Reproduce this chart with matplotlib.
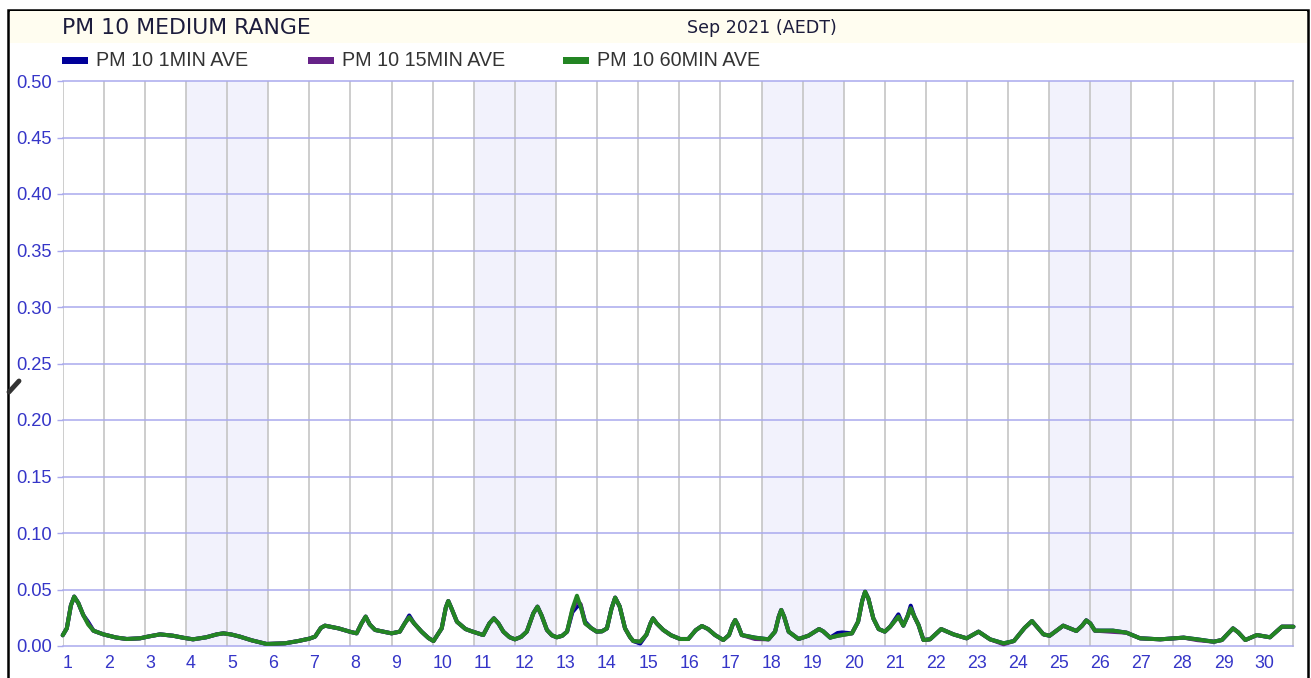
import matplotlib
matplotlib.use("Agg")
import matplotlib.pyplot as plt
from matplotlib.patches import Rectangle
from matplotlib.lines import Line2D
import numpy as np

# ---------------- data ----------------
title = "PM 10 MEDIUM RANGE"
period = "Sep 2021 (AEDT)"
series_names = ["PM 10 1MIN AVE", "PM 10 15MIN AVE", "PM 10 60MIN AVE"]
day_labels = [str(d) for d in range(1, 31)]
weekends = [(4, 6), (11, 13), (18, 20), (25, 27)]
y_ticks = [0.00, 0.05, 0.10, 0.15, 0.20, 0.25, 0.30, 0.35, 0.40, 0.45, 0.50]

days = [1.00, 1.10, 1.20, 1.28, 1.38, 1.50, 1.62, 1.75, 1.99, 2.30,
        2.56, 2.88, 3.10, 3.37, 3.68, 3.95, 4.17, 4.49, 4.75, 4.91,
        5.10, 5.31, 5.60, 5.96, 6.41, 6.73, 7.00, 7.14, 7.28, 7.38,
        7.71, 8.00, 8.15, 8.27, 8.37, 8.47, 8.60, 9.00, 9.20, 9.32,
        9.43, 9.55, 9.73, 9.90, 10.02, 10.22, 10.32, 10.38, 10.45, 10.59,
        10.80, 10.95, 11.10, 11.23, 11.38, 11.49, 11.60, 11.72, 11.87, 12.00,
        12.15, 12.29, 12.45, 12.55, 12.65, 12.78, 12.90, 13.02, 13.15, 13.27,
        13.40, 13.51, 13.60, 13.71, 13.85, 13.99, 14.12, 14.24, 14.35, 14.44,
        14.55, 14.68, 14.80, 14.88, 15.05, 15.20, 15.30, 15.36, 15.45, 15.61,
        15.80, 16.02, 16.22, 16.40, 16.55, 16.70, 16.87, 17.07, 17.21, 17.30,
        17.36, 17.42, 17.52, 17.84, 18.17, 18.33, 18.42, 18.48, 18.55, 18.66,
        18.90, 19.14, 19.40, 19.50, 19.67, 19.85, 19.96, 20.20, 20.35, 20.45,
        20.52, 20.60, 20.72, 20.85, 21.00, 21.13, 21.33, 21.45, 21.55, 21.63,
        21.72, 21.82, 21.94, 22.10, 22.37, 22.67, 22.99, 23.28, 23.56, 23.89,
        24.14, 24.40, 24.58, 24.75, 24.86, 25.01, 25.34, 25.66, 25.80, 25.90,
        26.00, 26.11, 26.55, 26.88, 27.21, 27.70, 28.27, 28.60, 29.00, 29.20,
        29.47, 29.60, 29.77, 30.05, 30.37, 30.66, 30.94]

pm10_60min = [0.0095, 0.0156, 0.0360, 0.0437, 0.0380, 0.0274, 0.0190, 0.0135, 0.0103, 0.0075,
              0.0062, 0.0068, 0.0085, 0.0103, 0.0091, 0.0072, 0.0059, 0.0077, 0.0103, 0.0112,
              0.0102, 0.0083, 0.0050, 0.0018, 0.0024, 0.0044, 0.0065, 0.0083, 0.0160, 0.0180,
              0.0156, 0.0125, 0.0112, 0.0200, 0.0260, 0.0190, 0.0142, 0.0112, 0.0127, 0.0200,
              0.0254, 0.0200, 0.0127, 0.0070, 0.0044, 0.0156, 0.0340, 0.0398, 0.0340, 0.0215,
              0.0150, 0.0130, 0.0112, 0.0097, 0.0200, 0.0245, 0.0200, 0.0127, 0.0078, 0.0059,
              0.0080, 0.0127, 0.0290, 0.0348, 0.0270, 0.0142, 0.0095, 0.0077, 0.0090, 0.0127,
              0.0330, 0.0445, 0.0350, 0.0200, 0.0160, 0.0127, 0.0130, 0.0156, 0.0330, 0.0428,
              0.0350, 0.0156, 0.0080, 0.0044, 0.0038, 0.0100, 0.0200, 0.0245, 0.0200, 0.0142,
              0.0095, 0.0062, 0.0062, 0.0140, 0.0177, 0.0150, 0.0097, 0.0053, 0.0097, 0.0190,
              0.0230, 0.0190, 0.0097, 0.0074, 0.0059, 0.0127, 0.0260, 0.0319, 0.0260, 0.0127,
              0.0062, 0.0091, 0.0150, 0.0130, 0.0074, 0.0090, 0.0097, 0.0112, 0.0215, 0.0400,
              0.0480, 0.0420, 0.0245, 0.0150, 0.0127, 0.0171, 0.0260, 0.0180, 0.0260, 0.0333,
              0.0260, 0.0186, 0.0053, 0.0059, 0.0150, 0.0103, 0.0068, 0.0127, 0.0059, 0.0024,
              0.0044, 0.0160, 0.0221, 0.0150, 0.0103, 0.0091, 0.0180, 0.0133, 0.0180, 0.0227,
              0.0200, 0.0136, 0.0136, 0.0118, 0.0068, 0.0059, 0.0074, 0.0059, 0.0038, 0.0053,
              0.0156, 0.0120, 0.0053, 0.0097, 0.0077, 0.0171, 0.0171]

# points where the 15-minute average differs from the 60-minute one (day -> value)
pm10_15min_diff = {1.62: 0.0200, 13.40: 0.0320, 13.51: 0.0400, 13.60: 0.0370,
                   17.84: 0.0062, 23.89: 0.0015, 26.55: 0.0125, 28.60: 0.0052}
# points where the 1-minute average differs from the 60-minute one (day -> value)
pm10_1min_diff = {1.62: 0.0212, 9.43: 0.0270, 13.40: 0.0300, 13.51: 0.0348,
                  13.60: 0.0360, 13.71: 0.0215, 15.05: 0.0022, 19.85: 0.0115,
                  19.96: 0.0120, 21.33: 0.0280, 21.63: 0.0357}

pm10_15min = [pm10_15min_diff.get(d, v) for d, v in zip(days, pm10_60min)]
pm10_1min = [pm10_1min_diff.get(d, v) for d, v in zip(days, pm10_60min)]

colors = ["#000099", "#662288", "#238523"]

# ---------------- figure ----------------
W, H = 1311, 678
fig = plt.figure(figsize=(W / 100, H / 100), dpi=100)
fig.patch.set_facecolor("white")

def fx(px):
    return px / W

def fy(py):
    return 1 - py / H

# outer frame and header band
fig.patches.append(Rectangle((fx(8), fy(700)), fx(1308) - fx(8), fy(10) - fy(700),
                             transform=fig.transFigure, facecolor="none",
                             edgecolor="black", linewidth=1.8, zorder=0))
fig.patches.append(Rectangle((fx(9.5), fy(43)), fx(1306.5) - fx(9.5), fy(11.5) - fy(43),
                             transform=fig.transFigure, facecolor="#fffdf0",
                             edgecolor="none", zorder=0))

# plot area
left, right, top, bottom = 62.7, 1293, 81, 646
ax = fig.add_axes([fx(left), fy(bottom), fx(right) - fx(left), fy(top) - fy(bottom)])
ax.set_facecolor("white")
ax.set_xlim(1, 30.93)
ax.set_ylim(0, 0.5)

for a, b in weekends:
    ax.axvspan(a, b, color="#f2f2fc", zorder=0, lw=0)

grid_v = "#c9c9c9"
grid_h = "#aaaaee"
for d in range(1, 31):
    ax.axvline(d, color=grid_v, lw=1.3, zorder=1)
ax.axvline(30.93, color=grid_v, lw=1.3, zorder=1, clip_on=False)
for yv in y_ticks:
    ax.axhline(yv, color=grid_h, lw=1.1, zorder=1.5, clip_on=False)

for s in ax.spines.values():
    s.set_visible(False)

ax.set_yticks(y_ticks)
ax.set_yticklabels([f"{v:.2f}" for v in y_ticks])
ax.tick_params(axis="y", length=4.5, width=1.0, color=grid_h, pad=3.5,
               labelsize=13.2, labelcolor="#3535c8")
ax.set_xticks(range(1, 31))
ax.set_xticklabels(day_labels)
ax.tick_params(axis="x", length=0, pad=6.5, labelsize=12.8, labelcolor="#3535c8")
for lab in ax.get_xticklabels():
    lab.set_horizontalalignment("left")
for lab in ax.get_xticklabels() + ax.get_yticklabels():
    lab.set_fontfamily("Liberation Sans")

# series (1MIN underneath, 60MIN on top)
for vals, c, z in [(pm10_1min, colors[0], 3), (pm10_15min, colors[1], 4), (pm10_60min, colors[2], 5)]:
    ax.plot(days, vals, color=c, lw=2.9, zorder=z, solid_joinstyle="round",
            solid_capstyle="round", clip_on=False)

# header texts
fig.text(fx(62), fy(28), title, fontsize=15.8, family="DejaVu Sans",
         color="#1c1c3c", ha="left", va="center")
fig.text(fx(762), fy(28), period, fontsize=12.6, family="DejaVu Sans",
         color="#1c1c3c", ha="center", va="center")

# legend
leg_x = [62, 308, 563]
for x0, name, c in zip(leg_x, series_names, colors):
    fig.patches.append(Rectangle((fx(x0), fy(64)), fx(26), fy(57) - fy(64),
                                 transform=fig.transFigure, facecolor=c,
                                 edgecolor="none"))
    fig.text(fx(x0 + 34), fy(60.5), name, fontsize=14.2, family="Liberation Sans",
             color="#333333", ha="left", va="center")

# small pen icon on the left frame
fig.add_artist(Line2D([fx(9), fx(19)], [fy(392), fy(381)], transform=fig.transFigure,
                      color="#333333", lw=3.5, solid_capstyle="round"))

fig.savefig("out.png", dpi=100)
